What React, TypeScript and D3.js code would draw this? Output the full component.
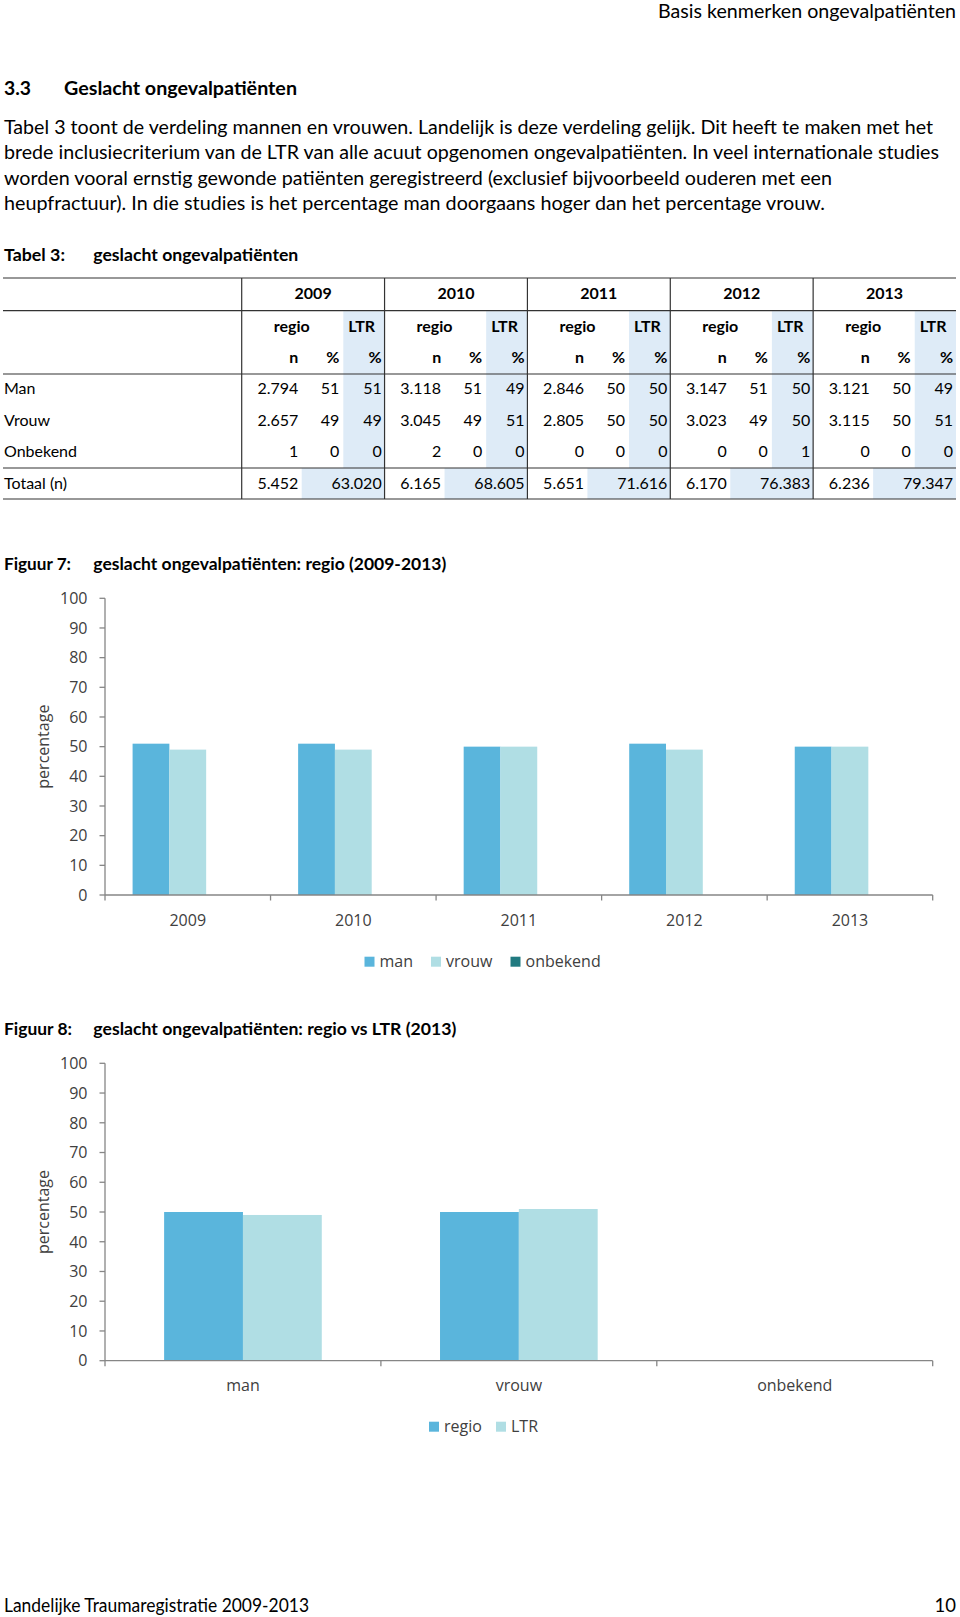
import React from "react";
import * as d3 from "d3";

// ---------- data ----------
const years = ["2009", "2010", "2011", "2012", "2013"];
const rowLabels = ["Man", "Vrouw", "Onbekend"];
const manN = ["2.794", "3.118", "2.846", "3.147", "3.121"];
const manRegioPct = [51, 51, 50, 51, 50];
const manLtrPct = [51, 49, 50, 50, 49];
const vrouwN = ["2.657", "3.045", "2.805", "3.023", "3.115"];
const vrouwRegioPct = [49, 49, 50, 49, 50];
const vrouwLtrPct = [49, 51, 50, 50, 51];
const onbekendN = ["1", "2", "0", "0", "0"];
const onbekendRegioPct = [0, 0, 0, 0, 0];
const onbekendLtrPct = [0, 0, 0, 1, 0];
const totaalRegioN = ["5.452", "6.165", "5.651", "6.170", "6.236"];
const totaalLtrN = ["63.020", "68.605", "71.616", "76.383", "79.347"];

const fig7Series = ["man", "vrouw", "onbekend"];
const fig8Categories = ["man", "vrouw", "onbekend"];
const fig8Series = ["regio", "LTR"];
const fig8Regio2013 = [50, 50, 0];
const fig8Ltr2013 = [49, 51, 0];
const yTicks = [0, 10, 20, 30, 40, 50, 60, 70, 80, 90, 100];

const paragraph = [
  "Tabel 3 toont de verdeling mannen en vrouwen. Landelijk is deze verdeling gelijk. Dit heeft te maken met het",
  "brede inclusiecriterium van de LTR van alle acuut opgenomen ongevalpatiënten. In veel internationale studies",
  "worden vooral ernstig gewonde patiënten geregistreerd (exclusief bijvoorbeeld ouderen met een",
  "heupfractuur). In die studies is het percentage man doorgaans hoger dan het percentage vrouw.",
];
const paragraphWidths = [929, 935, 828, 821];

// ---------- styles ----------
const DOC_FONT = "Lato, 'Open Sans', sans-serif";
const CHART_FONT = "'Open Sans', 'Noto Sans', sans-serif";
const AXIS = "#868686";
const CHART_TEXT = "#404040";
const C_MAN = "#5ab5dc";
const C_VROUW = "#b0dee4";
const C_ONB = "#217a80";
const SHADE = "#deebf7";

function Table() {
  const x0 = 241.7;
  const xEnd = 956;
  const g = d3.scaleBand().domain(years).range([x0, xEnd]);
  const gw = g.bandwidth();
  const lines = [278, 310.7, 374, 468, 499];
  const rowY = [388, 420, 451];
  const data = [
    [manN, manRegioPct, manLtrPct],
    [vrouwN, vrouwRegioPct, vrouwLtrPct],
    [onbekendN, onbekendRegioPct, onbekendLtrPct],
  ];
  return (
    <g fontFamily={DOC_FONT} fontSize={16} fill="#000">
      <text x={4} y={254.7} dy="0.35em" fontWeight="bold" fontSize={17} textLength={61} lengthAdjust="spacingAndGlyphs">Tabel 3:</text>
      <text x={93.3} y={254.7} dy="0.35em" fontWeight="bold" fontSize={17} textLength={205} lengthAdjust="spacingAndGlyphs">geslacht ongevalpatiënten</text>
      {years.map((yr) => {
        const gx = g(yr)!;
        return (
          <g key={"shade" + yr}>
            <rect x={gx + 101.6} y={311.2} width={gw - 101.6} height={468 - 311.2} fill={SHADE} />
            <rect x={gx + 60} y={468} width={gw - 60} height={499 - 468} fill={SHADE} />
          </g>
        );
      })}
      {lines.map((ly) => (
        <line key={ly} x1={3} x2={xEnd} y1={ly} y2={ly} stroke="#333" strokeWidth={1.2} />
      ))}
      {years.map((yr) => (
        <line key={"v" + yr} x1={g(yr)!} x2={g(yr)!} y1={278} y2={499} stroke="#333" strokeWidth={1.2} />
      ))}
      {years.map((yr, i) => {
        const gx = g(yr)!;
        return (
          <g key={"col" + yr}>
            <text x={gx + gw / 2} y={293} dy="0.35em" textAnchor="middle" fontWeight="bold">{yr}</text>
            <text x={gx + 50} y={326} dy="0.35em" textAnchor="middle" fontWeight="bold">regio</text>
            <text x={gx + 120} y={326} dy="0.35em" textAnchor="middle" fontWeight="bold">LTR</text>
            <text x={gx + 56.6} y={357} dy="0.35em" textAnchor="end" fontWeight="bold">n</text>
            <text x={gx + 97.6} y={357} dy="0.35em" textAnchor="end" fontWeight="bold">%</text>
            <text x={gx + 140} y={357} dy="0.35em" textAnchor="end" fontWeight="bold">%</text>
            {data.map((row, r) => (
              <g key={"r" + r}>
                <text x={gx + 56.6} y={rowY[r]} dy="0.35em" textAnchor="end">{row[0][i]}</text>
                <text x={gx + 97.6} y={rowY[r]} dy="0.35em" textAnchor="end">{row[1][i]}</text>
                <text x={gx + 140} y={rowY[r]} dy="0.35em" textAnchor="end">{row[2][i]}</text>
              </g>
            ))}
            <text x={gx + 56.6} y={483} dy="0.35em" textAnchor="end">{totaalRegioN[i]}</text>
            <text x={gx + 140} y={483} dy="0.35em" textAnchor="end">{totaalLtrN[i]}</text>
          </g>
        );
      })}
      {rowLabels.map((l, r) => (
        <text key={l} x={4} y={rowY[r]} dy="0.35em">{l}</text>
      ))}
      <text x={4} y={483} dy="0.35em">Totaal (n)</text>
    </g>
  );
}

type ChartProps = {
  top: number; // y of value 100
  bottom: number; // y of value 0
  categories: string[];
  series: string[];
  values: number[][]; // [series][category]
  colors: string[];
  legendX: number[];
  legendY: number;
  legendLabels: string[];
};

function BarChart(p: ChartProps) {
  const xL = 105;
  const xR = 932.7;
  const y = d3.scaleLinear().domain([0, 100]).range([p.bottom, p.top]);
  const x0 = d3.scaleBand().domain(p.categories).range([xL, xR]);
  const bw = x0.bandwidth();
  const n = p.series.length;
  const w = bw / (n + 1.5);
  const x1 = d3.scaleBand().domain(p.series).range([(bw - n * w) / 2, (bw + n * w) / 2]);
  const tickPos = [...p.categories.map((c) => x0(c)!), xR];
  return (
    <g fontFamily={CHART_FONT}>
      {p.series.map((s, si) =>
        p.categories.map((c, ci) => {
          const v = p.values[si][ci];
          return (
            <rect
              key={s + c}
              x={x0(c)! + x1(s)!}
              y={y(v)}
              width={x1.bandwidth()}
              height={p.bottom - y(v)}
              fill={p.colors[si]}
            />
          );
        })
      )}
      <line x1={xL} x2={xL} y1={p.top} y2={p.bottom} stroke={AXIS} strokeWidth={1.3} />
      {yTicks.map((t) => (
        <g key={t}>
          <line x1={xL - 5.5} x2={xL} y1={y(t)} y2={y(t)} stroke={AXIS} strokeWidth={1.3} />
          <text x={87.5} y={y(t)} dy="0.36em" textAnchor="end" fontSize={16} fill={CHART_TEXT}>{t}</text>
        </g>
      ))}
      <line x1={xL} x2={xR} y1={p.bottom} y2={p.bottom} stroke={AXIS} strokeWidth={1.3} />
      {tickPos.map((tx, i) => (
        <line key={i} x1={tx} x2={tx} y1={p.bottom} y2={p.bottom + 5.5} stroke={AXIS} strokeWidth={1.3} />
      ))}
      {p.categories.map((c) => (
        <text key={c} x={x0(c)! + bw / 2} y={p.bottom + 25} dy="0.36em" textAnchor="middle" fontSize={16} fill={CHART_TEXT}>{c}</text>
      ))}
      <text
        transform={`translate(43.3, ${(p.top + p.bottom) / 2}) rotate(-90)`}
        textAnchor="middle"
        dy="0.36em"
        fontSize={16}
        fill={CHART_TEXT}
      >
        percentage
      </text>
      {p.legendLabels.map((l, i) => (
        <g key={l}>
          <rect x={p.legendX[i]} y={p.legendY - 5} width={10} height={10} fill={p.colors[i]} />
          <text x={p.legendX[i] + 15} y={p.legendY} dy="0.36em" fontSize={16} fill={CHART_TEXT}>{l}</text>
        </g>
      ))}
    </g>
  );
}

export default function App() {
  const fig7Values = [
    manRegioPct,
    vrouwRegioPct,
    onbekendRegioPct,
  ];
  const fig8Values = [fig8Regio2013, fig8Ltr2013];
  return (
    <svg
      width={960}
      height={1617}
      viewBox="0 0 960 1617"
      style={{ position: "absolute", left: 0, top: 0, background: "#fff" }}
    >
      <rect x={0} y={0} width={960} height={1617} fill="#fff" />
      <g fontFamily={DOC_FONT} fill="#000">
        <text x={956} y={11.5} dy="0.35em" textAnchor="end" fontSize={18.5} textLength={298} lengthAdjust="spacingAndGlyphs">Basis kenmerken ongevalpatiënten</text>
        <text x={4} y={88.7} dy="0.35em" fontWeight="bold" fontSize={18.5} textLength={27} lengthAdjust="spacingAndGlyphs">3.3</text>
        <text x={64} y={88.7} dy="0.35em" fontWeight="bold" fontSize={18.5} textLength={233} lengthAdjust="spacingAndGlyphs">Geslacht ongevalpatiënten</text>
        {paragraph.map((l, i) => (
          <text key={i} x={4} y={[128, 152.8, 178.4, 204][i]} dy="0.35em" fontSize={18.5} textLength={paragraphWidths[i]} lengthAdjust="spacingAndGlyphs">{l}</text>
        ))}
        <text x={4} y={564} dy="0.35em" fontWeight="bold" fontSize={17} textLength={67} lengthAdjust="spacingAndGlyphs">Figuur 7:</text>
        <text x={93.3} y={564} dy="0.35em" fontWeight="bold" fontSize={17} textLength={353} lengthAdjust="spacingAndGlyphs">geslacht ongevalpatiënten: regio (2009-2013)</text>
        <text x={4} y={1029.5} dy="0.35em" fontWeight="bold" fontSize={17} textLength={68} lengthAdjust="spacingAndGlyphs">Figuur 8:</text>
        <text x={93.3} y={1029.5} dy="0.35em" fontWeight="bold" fontSize={17} textLength={363} lengthAdjust="spacingAndGlyphs">geslacht ongevalpatiënten: regio vs LTR (2013)</text>
        <text x={4} y={1605.5} dy="0.35em" fontSize={18.5} textLength={305} lengthAdjust="spacingAndGlyphs">Landelijke Traumaregistratie 2009-2013</text>
        <text x={956} y={1605.5} dy="0.35em" textAnchor="end" fontSize={18.5}>10</text>
      </g>
      <Table />
      <BarChart
        top={598.3}
        bottom={895}
        categories={years}
        series={fig7Series}
        values={fig7Values}
        colors={[C_MAN, C_VROUW, C_ONB]}
        legendX={[364.5, 431, 510.5]}
        legendY={961.7}
        legendLabels={fig7Series}
      />
      <BarChart
        top={1063.3}
        bottom={1360.7}
        categories={fig8Categories}
        series={fig8Series}
        values={fig8Values}
        colors={[C_MAN, C_VROUW]}
        legendX={[429, 496]}
        legendY={1426.7}
        legendLabels={fig8Series}
      />
    </svg>
  );
}
